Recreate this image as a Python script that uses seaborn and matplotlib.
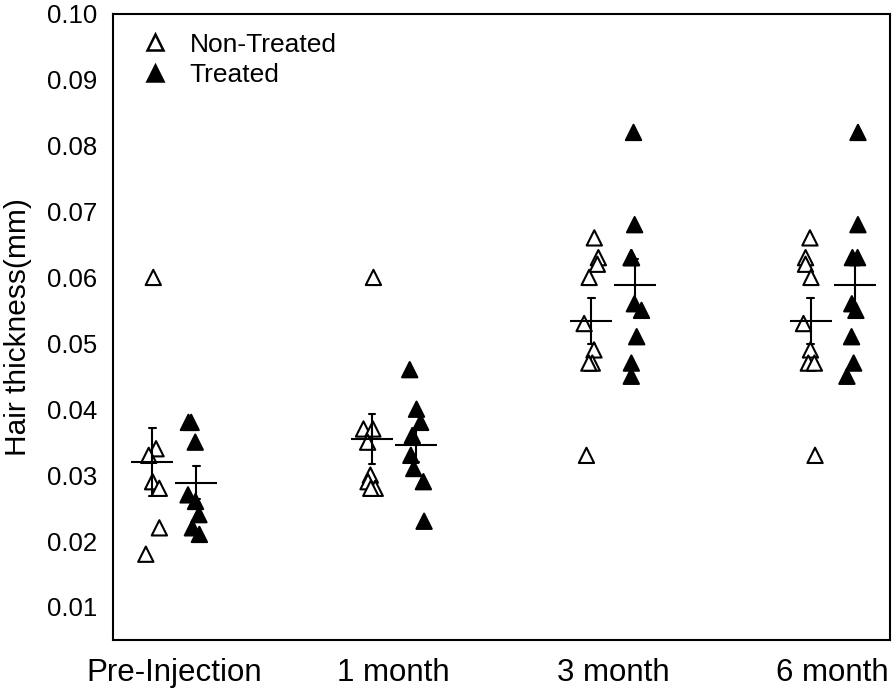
import numpy as np
import pandas as pd
import matplotlib
matplotlib.use("Agg")
import matplotlib.pyplot as plt
import seaborn as sns
from matplotlib.lines import Line2D

# Dados (espessura do cabelo em mm)
timepoints = ["Pre-Injection", "1 month", "3 month", "6 month"]
groups = ["Non-Treated", "Treated"]

pre_non = [0.060, 0.034, 0.033, 0.029, 0.028, 0.022, 0.018]
pre_trt = [0.038, 0.038, 0.035, 0.027, 0.026, 0.024, 0.022, 0.021]
m1_non = [0.060, 0.037, 0.037, 0.035, 0.030, 0.029, 0.028, 0.028]
m1_trt = [0.046, 0.040, 0.038, 0.036, 0.033, 0.031, 0.029, 0.023]
m3_non = [0.066, 0.063, 0.062, 0.060, 0.053, 0.049, 0.047, 0.047, 0.033]
m3_trt = [0.082, 0.068, 0.063, 0.063, 0.056, 0.055, 0.051, 0.047, 0.045]
m6_non = [0.066, 0.063, 0.062, 0.060, 0.053, 0.049, 0.047, 0.047, 0.033]
m6_trt = [0.082, 0.068, 0.063, 0.063, 0.056, 0.055, 0.051, 0.047, 0.045]

series = {
    ("Pre-Injection", "Non-Treated"): pre_non,
    ("Pre-Injection", "Treated"): pre_trt,
    ("1 month", "Non-Treated"): m1_non,
    ("1 month", "Treated"): m1_trt,
    ("3 month", "Non-Treated"): m3_non,
    ("3 month", "Treated"): m3_trt,
    ("6 month", "Non-Treated"): m6_non,
    ("6 month", "Treated"): m6_trt,
}

# Monta o DataFrame em formato longo
offset = {"Non-Treated": -0.1, "Treated": 0.1}
rows = []
for (tp, grp), vals in series.items():
    for v in vals:
        rows.append({"time": tp, "group": grp,
                     "xpos": timepoints.index(tp) + offset[grp],
                     "thickness": v})
df = pd.DataFrame(rows)

sns.set_theme(style="white")
plt.rcParams["font.family"] = ["Liberation Sans", "DejaVu Sans"]
plt.rcParams["text.color"] = "black"
plt.rcParams["axes.labelcolor"] = "black"
plt.rcParams["xtick.color"] = "black"
plt.rcParams["ytick.color"] = "black"

fig, ax = plt.subplots(figsize=(8.96, 6.91), dpi=100)
fig.subplots_adjust(left=0.126, right=0.993, top=0.980, bottom=0.074)

np.random.seed(3)
sns.stripplot(data=df, x="xpos", y="thickness", hue="group", hue_order=groups,
              palette={"Non-Treated": "white", "Treated": "black"},
              native_scale=True, orient="x", jitter=0.2, marker="^", size=11,
              edgecolor="black", linewidth=1.5, legend=False, ax=ax, zorder=2)

# Média e erro padrão
sns.pointplot(data=df, x="xpos", y="thickness", hue="group", hue_order=groups,
              palette={"Non-Treated": "black", "Treated": "black"},
              native_scale=True, orient="x", errorbar="se", capsize=0.15,
              marker="_", markersize=30, markeredgewidth=1.5, linestyle="none",
              err_kws={"linewidth": 1.5}, legend=False, ax=ax, zorder=3)

ax.set_xlim(-0.28, 3.26)
ax.set_ylim(0.005, 0.10)
ax.set_xticks(range(len(timepoints)))
ax.set_xticklabels(timepoints, fontsize=22.5)
ax.set_yticks(np.arange(0.01, 0.1001, 0.01))
ax.set_yticklabels([f"{t:.2f}" for t in np.arange(0.01, 0.1001, 0.01)], fontsize=18.5)
ax.tick_params(axis="both", length=0, colors="black")
ax.tick_params(axis="x", pad=13)
ax.tick_params(axis="y", pad=11)
ax.set_xlabel("")
ax.set_ylabel("Hair thickness(mm)", fontsize=21.5, color="black")
ax.yaxis.set_label_coords(-0.104, 0.5)

for sp in ax.spines.values():
    sp.set_visible(True)
    sp.set_color("black")
    sp.set_linewidth(1.5)

handles = [
    Line2D([], [], marker="^", linestyle="none", markersize=11,
           markerfacecolor="white", markeredgecolor="black", markeredgewidth=1.8),
    Line2D([], [], marker="^", linestyle="none", markersize=11,
           markerfacecolor="black", markeredgecolor="black", markeredgewidth=1.8),
]
ax.legend(handles, groups, loc="upper left", bbox_to_anchor=(-0.01, 1.008),
          frameon=False, fontsize=19, handletextpad=0.3, labelspacing=0.25,
          borderaxespad=0.5)

fig.savefig("out.png", dpi=100)
